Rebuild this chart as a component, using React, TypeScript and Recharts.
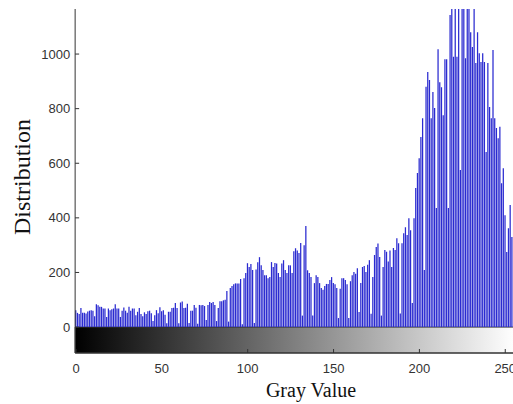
import { BarChart, Bar, XAxis, YAxis, ReferenceArea } from 'recharts'

// histogram counts per gray level (0..255)
const countsDark = [
  62, 52, 48, 70, 52, 52, 50, 57, 60, 62, 60, 40, 84, 80, 74, 74, 68, 68, 37, 68,
  62, 65, 68, 84, 68, 68, 37, 60, 72, 60, 52, 74, 60, 68, 68, 43,
]
const countsShadow = [
  56, 70, 48, 40, 54, 48, 58, 60, 51, 22, 43, 62, 51, 73, 58, 62, 45, 14, 56, 56,
  70, 71, 88, 70, 14, 90, 94, 70, 71, 85, 15, 60, 60, 81, 71, 12, 81, 80,
]
const countsMid = [
  81, 77, 26, 81, 92, 88, 92, 81, 22, 70, 95, 95, 98, 100, 132, 20, 143, 150, 157, 160,
  160, 160, 176, 10, 179, 198, 234, 220, 231, 209, 15, 211, 237, 256, 226, 209, 190,
]
const countsUpperMid = [
  190, 179, 183, 238, 220, 235, 233, 198, 183, 233, 245, 209, 198, 226, 226, 198, 278, 289, 280, 271,
  308, 42, 300, 370, 208, 198, 183, 42, 161, 190, 183, 161, 143, 137, 150, 158, 158,
]
const countsLight = [
  172, 183, 161, 157, 143, 33, 140, 179, 179, 172, 157, 33, 168, 190, 202, 195, 215, 55, 161, 220,
  224, 202, 228, 245, 49, 183, 264, 293, 306, 257, 42, 220, 282, 276, 240, 280, 220, 290,
]
const countsBright = [
  282, 325, 307, 50, 307, 344, 366, 337, 399, 355, 88, 399, 509, 564, 618, 696, 765, 209, 880, 934,
  905, 765, 861, 802, 436, 1018, 897, 878, 776, 981, 981, 436, 1143, 1200, 990,
]
const countsWhite = [
  1200, 990, 1200, 575, 1200, 1200, 985, 1200, 1200, 1080, 1026, 1200, 967, 1080, 1003, 971, 1003, 971, 641, 967,
  806, 765, 1015, 765, 729, 692, 734, 527, 582, 410, 275, 362, 447, 330, 445,
]

const yTicks = [0, 200, 400, 600, 800, 1000]
const yDomain = [-95, 1165]

const counts = [
  ...countsDark,
  ...countsShadow,
  ...countsMid,
  ...countsUpperMid,
  ...countsLight,
  ...countsBright,
  ...countsWhite,
]
const data = counts.map((count, gray) => ({ gray, count }))

const tickStyle = { fill: '#333', fontSize: 13, fontFamily: 'Liberation Sans, Arial, sans-serif' }
const frame = '#333'
const serif = '"Liberation Serif", "Times New Roman", serif'

export default function App() {
  return (
    <div style={{ position: 'absolute', left: 0, top: 0, width: 513, height: 404, overflow: 'hidden', background: '#fff' }}>
      <BarChart
        width={530}
        height={404}
        data={data}
        margin={{ top: 9, right: 15.3, bottom: 0, left: 0 }}
      >
        <defs>
          <linearGradient id="grayRamp" x1="0" y1="0" x2="1" y2="0">
            <stop offset="0%" stopColor="#000" />
            <stop offset="100%" stopColor="#fff" />
          </linearGradient>
        </defs>
        <XAxis
          dataKey="gray"
          interval={49}
          height={51}
          tick={tickStyle}
          tickSize={-4}
          tickMargin={15}
          stroke={frame}
        />
        <XAxis
          xAxisId="top"
          dataKey="gray"
          orientation="top"
          interval={49}
          height={0}
          tick={false}
          tickSize={-4}
          stroke={frame}
        />
        <YAxis
          type="number"
          domain={yDomain}
          ticks={yTicks}
          allowDataOverflow
          width={75.14}
          tick={tickStyle}
          tickSize={-4}
          tickMargin={9}
          stroke={frame}
        />
        <YAxis
          yAxisId="right"
          orientation="right"
          type="number"
          domain={yDomain}
          ticks={yTicks}
          allowDataOverflow
          width={0}
          tick={false}
          tickSize={-4}
          stroke={frame}
        />
        <ReferenceArea y1={-95} y2={0} fill="url(#grayRamp)" fillOpacity={1} stroke={frame} strokeWidth={1} />
        <Bar dataKey="count" fill="#2a2ad0" barSize={1.25} isAnimationActive={false} />
      </BarChart>
      <div
        style={{
          position: 'absolute',
          left: 22,
          top: 177,
          transform: 'translate(-50%, -50%) rotate(-90deg)',
          fontFamily: serif,
          fontSize: 24,
          lineHeight: '24px',
          whiteSpace: 'nowrap',
          color: '#111',
        }}
      >
        Distribution
      </div>
      <div
        style={{
          position: 'absolute',
          left: 311,
          top: 380,
          transform: 'translateX(-50%)',
          fontFamily: serif,
          fontSize: 20,
          lineHeight: '20px',
          whiteSpace: 'nowrap',
          color: '#111',
        }}
      >
        Gray Value
      </div>
    </div>
  )
}
